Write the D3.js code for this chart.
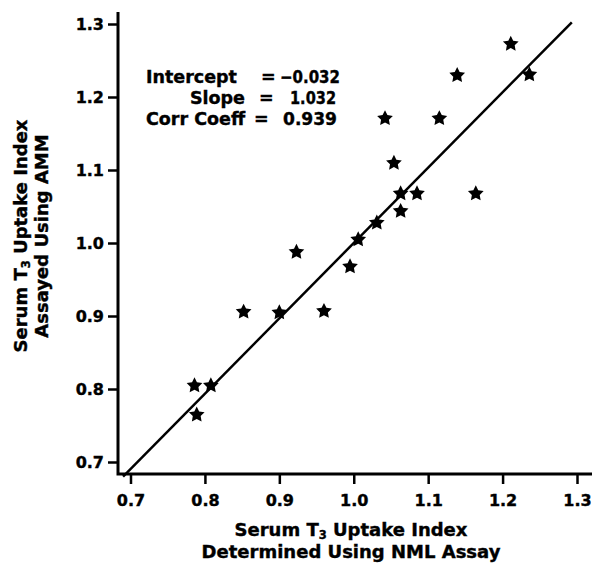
<!DOCTYPE html>
<html>
<head>
<meta charset="utf-8">
<script src="https://cdn.jsdelivr.net/npm/d3@7"></script>
<style>
  body { margin: 0; background: #fff; }
  text { font-family: "DejaVu Sans", sans-serif; font-weight: bold; fill: #000; stroke: #000; stroke-width: 0.4px; }
</style>
</head>
<body>
<div id="main"></div>
<script>
// data
var ptX = [1.211, 1.236, 1.139, 1.042, 1.115, 1.054, 1.063, 1.085, 1.164, 1.063,
           1.031, 1.006, 0.995, 0.923, 0.900, 0.960, 0.852, 0.786, 0.808, 0.789];
var ptY = [1.274, 1.232, 1.231, 1.172, 1.172, 1.111, 1.069, 1.069, 1.069, 1.045,
           1.029, 1.006, 0.969, 0.989, 0.906, 0.908, 0.907, 0.806, 0.806, 0.766];
var tickVals = [0.7, 0.8, 0.9, 1.0, 1.1, 1.2, 1.3];
var fitIntercept = -0.032, fitSlope = 1.032;
var fitRange = [0.69, 1.293];
var statLabels = ["Intercept", "Slope", "Corr Coeff"];
var statValues = ["\u22120.032", "1.032", "0.939"];

var width = 600, height = 565;
var svg = d3.select("#main").append("svg")
  .attr("width", width).attr("height", height);

var x = d3.scaleLinear().domain([0.7, 1.3]).range([130.5, 577]);
var y = d3.scaleLinear().domain([0.7, 1.3]).range([462, 24]);
var plotL = 118, plotR = 592, plotT = 12, plotB = 474;

// axes
var xAxis = svg.append("g").attr("transform", "translate(0," + plotB + ")")
  .call(d3.axisBottom(x).tickValues(tickVals).tickSize(10).tickPadding(6).tickFormat(d3.format(".1f")));
var yAxis = svg.append("g").attr("transform", "translate(" + plotL + ",0)")
  .call(d3.axisLeft(y).tickValues(tickVals).tickSize(10).tickPadding(4).tickFormat(d3.format(".1f")));
[xAxis, yAxis].forEach(function (g) {
  g.select(".domain").remove();
  g.selectAll(".tick line").attr("stroke", "#000").attr("stroke-width", 2.5);
  g.selectAll(".tick text").style("font-size", "16px").attr("fill", "#000")
    .style("font-family", "'DejaVu Sans', sans-serif").style("font-weight", "bold");
});
xAxis.selectAll(".tick text").attr("dy", "1em");

// the L-shaped frame
svg.append("path")
  .attr("d", "M" + plotL + "," + plotT + "V" + plotB + "H" + plotR)
  .attr("fill", "none").attr("stroke", "#000").attr("stroke-width", 3)
  .attr("stroke-linejoin", "miter");

// regression line
svg.append("line")
  .attr("x1", x(fitRange[0])).attr("y1", y(fitIntercept + fitSlope * fitRange[0]))
  .attr("x2", x(fitRange[1])).attr("y2", y(fitIntercept + fitSlope * fitRange[1]))
  .attr("stroke", "#000").attr("stroke-width", 2.5);

// fat five point star
var fatStar = {
  draw: function (ctx, size) {
    var r = Math.sqrt(size / 2.2), ri = r * 0.5;
    for (var i = 0; i < 10; i++) {
      var rr = i % 2 ? ri : r;
      var a = Math.PI * i / 5;
      var px = Math.sin(a) * rr, py = -Math.cos(a) * rr;
      if (i === 0) ctx.moveTo(px, py); else ctx.lineTo(px, py);
    }
    ctx.closePath();
  }
};
var star = d3.symbol().type(fatStar).size(150);
svg.append("g").selectAll("path")
  .data(ptX.map(function (d, i) { return [d, ptY[i]]; }))
  .enter().append("path")
  .attr("d", star)
  .attr("transform", function (d) { return "translate(" + x(d[0]) + "," + (y(d[1]) + 1) + ")"; })
  .attr("fill", "#000");

// stats block
var stats = svg.append("g").style("font-size", "17.5px");
var labelPos = [[146, "start"], [245, "end"], [146, "start"]];
var eqPos = [261, 259, 254];
var valStart = [280, 290, 283];
var valLen = [60, 46, 54];
statLabels.forEach(function (lab, i) {
  var by = 83 + i * 21;
  stats.append("text").attr("x", labelPos[i][0]).attr("y", by).attr("text-anchor", labelPos[i][1]).text(lab);
  stats.append("text").attr("x", eqPos[i]).attr("y", by).text("=");
  stats.append("text").attr("x", valStart[i]).attr("y", by)
    .attr("textLength", valLen[i]).attr("lengthAdjust", "spacingAndGlyphs").text(statValues[i]);
});

// axis titles
function titleLine(g, pre, post) {
  var t = g.append("text").attr("text-anchor", "middle").style("font-size", "18px");
  t.append("tspan").text(pre);
  t.append("tspan").attr("dy", 2.5).style("font-size", "11.5px").text("3");
  t.append("tspan").attr("dy", -2.5).text(post);
  return t;
}
var xt = svg.append("g");
titleLine(xt, "Serum T", " Uptake Index").attr("x", 351).attr("y", 536);
xt.append("text").attr("text-anchor", "middle").style("font-size", "18px")
  .attr("x", 351).attr("y", 558).text("Determined Using NML Assay");

var yt1 = svg.append("g").attr("transform", "translate(27,236) rotate(-90)");
titleLine(yt1, "Serum T", " Uptake Index");
svg.append("g").attr("transform", "translate(48,236) rotate(-90)")
  .append("text").attr("text-anchor", "middle").style("font-size", "18px").text("Assayed Using AMM");
</script>
</body>
</html>
